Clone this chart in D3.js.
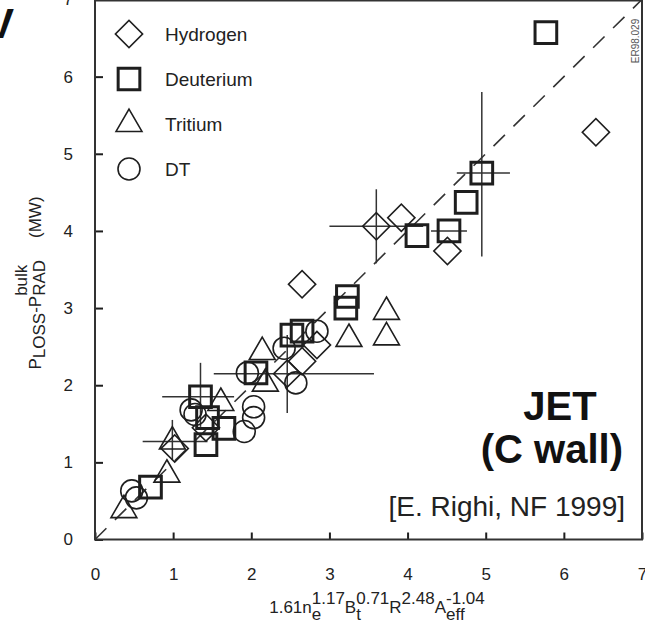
<!DOCTYPE html>
<html>
<head>
<meta charset="utf-8">
<script src="https://cdn.jsdelivr.net/npm/d3@7"></script>
<style>
	body { margin: 0; background: #fff; }
	svg { display: block; font-family: "Liberation Sans", Arial, sans-serif; }
</style>
</head>
<body>
<svg id="chart" width="645" height="628"></svg>
<script>
// Data, [x, y]
const hydrogen = [[1.02, 1.18], [1.42, 1.45], [2.46, 2.15], [2.65, 2.31], [2.84, 2.52], [2.65, 3.31], [3.6, 4.06], [3.92, 4.17], [4.51, 3.74], [6.41, 5.28]];
const deuterium = [[0.71, 0.68], [1.35, 1.85], [1.44, 1.58], [1.42, 1.23], [1.65, 1.44], [2.06, 2.16], [2.52, 2.65], [2.65, 2.7], [3.21, 3.0], [3.23, 3.15], [4.12, 3.94], [4.53, 4.0], [4.75, 4.37], [4.95, 4.75], [5.77, 6.57]];
const tritium = [[0.37, 0.38], [0.92, 0.84], [0.99, 1.27], [1.61, 1.77], [2.14, 2.43], [2.18, 2.02], [3.25, 2.6], [3.73, 2.62], [3.73, 2.95]];
const dt = [[0.47, 0.63], [0.53, 0.54], [1.23, 1.68], [1.28, 1.62], [1.91, 1.4], [1.95, 2.16], [2.03, 1.58], [2.03, 1.72], [2.42, 2.48], [2.57, 2.03], [2.84, 2.7]];

// error bars: [x, y, xLo, xHi, yLo, yHi]
const errorBars = [
	[0.99, 1.27, 0.61, 1.44, 1.03, 1.55],
	[1.35, 1.85, 0.86, 1.78, 1.46, 2.29],
	[2.46, 2.15, 1.52, 3.57, 1.64, 2.65],
	[3.6, 4.06, 3.0, 4.2, 3.58, 4.54],
	[4.53, 4.0, 4.3, 4.76, null, null],
	[4.95, 4.75, 4.63, 5.31, 3.67, 5.8]
];

const seriesNames = ["Hydrogen", "Deuterium", "Tritium", "DT"];
const ticks = [0, 1, 2, 3, 4, 5, 6, 7];

const svg = d3.select("#chart");
const ink = "#1e1e1e";

const x = d3.scaleLinear().domain([0, 7]).range([95, 642]),
	y = d3.scaleLinear().domain([0, 7]).range([539.5, -0.5]);

// Marker shapes
const shape = {
	Hydrogen: d3.symbol().type(d3.symbolSquare).size(370),
	Deuterium: d3.symbol().type(d3.symbolSquare).size(470),
	Tritium: d3.symbol().type(d3.symbolTriangle).size(290),
	DT: d3.symbol().type(d3.symbolCircle).size(380)
};
function marker(sel, name) {
	sel.attr("d", shape[name]())
		.attr("fill", "none")
		.attr("stroke", ink)
		.attr("stroke-width", name == "Deuterium" ? 3 : 1.6);
	if (name == "Hydrogen") {
		sel.attr("transform", function () {
			return d3.select(this).attr("transform") + " rotate(45)";
		});
	}
}

svg.append("clipPath").attr("id", "plot")
	.append("rect").attr("x", 95).attr("y", -1).attr("width", 547).attr("height", 541);

// Axes, ticks point inward
const yAxis = svg.append("g")
	.attr("transform", "translate(95,0)")
	.call(d3.axisLeft(y).tickValues(ticks).tickSize(-8).tickPadding(22).tickFormat(d3.format("d")));
const xAxis = svg.append("g")
	.attr("transform", "translate(0,539.5)")
	.call(d3.axisBottom(x).tickValues(ticks).tickSize(-7).tickPadding(28).tickFormat(d3.format("d")));
[xAxis, yAxis].forEach((a) => {
	a.select(".domain").remove();
	a.selectAll("line").attr("stroke", ink).attr("stroke-width", 2);
	a.selectAll("text").attr("font-size", 17).attr("fill", "#222").attr("font-family", "Liberation Sans, Arial");
});

// Frame
svg.append("rect")
	.attr("x", 95).attr("y", 0.5).attr("width", 547).attr("height", 539)
	.attr("fill", "none").attr("stroke", "#333").attr("stroke-width", 2);

const plot = svg.append("g").attr("clip-path", "url(#plot)");

// y = x reference line
plot.append("line")
	.attr("x1", x(0)).attr("y1", y(0)).attr("x2", x(7)).attr("y2", y(7))
	.attr("stroke", "#333").attr("stroke-width", 1.6).attr("stroke-dasharray", "16,12");

// Error bars
errorBars.forEach((e) => {
	plot.append("line")
		.attr("x1", x(e[2])).attr("x2", x(e[3])).attr("y1", y(e[1])).attr("y2", y(e[1]))
		.attr("stroke", "#333").attr("stroke-width", 1.5);
	if (e[4] != null) {
		plot.append("line")
			.attr("x1", x(e[0])).attr("x2", x(e[0])).attr("y1", y(e[4])).attr("y2", y(e[5]))
			.attr("stroke", "#333").attr("stroke-width", 1.5);
	}
});

// Points
[hydrogen, deuterium, tritium, dt].forEach((data, i) => {
	const name = seriesNames[i];
	plot.selectAll(".p" + i)
		.data(data)
		.enter()
		.append("path")
		.attr("class", "p" + i)
		.attr("transform", (d) => `translate(${x(d[0])},${y(d[1])})`)
		.call(marker, name);
});

// Legend
const legend = svg.append("g");
seriesNames.forEach((name, i) => {
	const ly = 34 + i * 45;
	legend.append("path").attr("transform", `translate(129,${ly})`).call(marker, name);
	legend.append("text").attr("x", 165).attr("y", ly + 6.5)
		.attr("font-size", 19).attr("fill", "#222").text(name);
});

// Text with stacked sub/superscripts
function mathLabel(parent, parts, size, subDy, supDy) {
	const g = parent.append("g");
	let cx = 0;
	parts.forEach((p) => {
		if (typeof p == "string") {
			const t = g.append("text").attr("x", cx).attr("font-size", size).attr("fill", "#222").text(p);
			cx += t.node().getComputedTextLength();
		} else if (p.gap) {
			cx += p.gap;
		} else {
			let w = 0;
			if (p.sub) {
				const t = g.append("text").attr("x", cx).attr("y", subDy).attr("font-size", size).attr("fill", "#222").text(p.sub);
				w = Math.max(w, t.node().getComputedTextLength());
			}
			if (p.sup) {
				const t = g.append("text").attr("x", cx).attr("y", supDy).attr("font-size", size).attr("fill", "#222").text(p.sup);
				w = Math.max(w, t.node().getComputedTextLength());
			}
			cx += w;
		}
	});
	return { g: g, width: cx };
}

const xt = mathLabel(svg, ["1.61n", { sub: "e", sup: "1.17" }, "B", { sub: "t", sup: "0.71" }, "R", { sup: "2.48" }, "A", { sub: "eff", sup: "-1.04" }], 17, 7, -9);
xt.g.attr("transform", `translate(${377 - xt.width / 2},613)`);

const yt = mathLabel(svg, ["P", { sub: "LOSS" }, "-P", { sub: "RAD", sup: "bulk" }, { gap: 22 }, "(MW)"], 17, 4, -14);
yt.g.attr("transform", `translate(41,${283 + yt.width / 2}) rotate(-90)`);

// Annotations
svg.append("text").attr("x", 560).attr("y", 420).attr("text-anchor", "middle")
	.attr("font-size", 40).attr("font-weight", "bold").attr("fill", "#111").text("JET");
svg.append("text").attr("x", 623).attr("y", 463).attr("text-anchor", "end")
	.attr("font-size", 40).attr("font-weight", "bold").attr("fill", "#111").text("(C wall)");
svg.append("text").attr("x", 625).attr("y", 516).attr("text-anchor", "end")
	.attr("font-size", 28).attr("fill", "#222").text("[E. Righi, NF 1999]");
svg.append("text").attr("transform", "translate(639,41) rotate(-90)").attr("text-anchor", "middle")
	.attr("font-size", 10).attr("fill", "#555").text("ER98.029");

// cut-off letter from the slide at the top left
svg.append("text").attr("x", 14).attr("y", 38).attr("text-anchor", "end")
	.attr("font-size", 42).attr("font-weight", "bold").attr("fill", "#111").text("V");
</script>
</body>
</html>
